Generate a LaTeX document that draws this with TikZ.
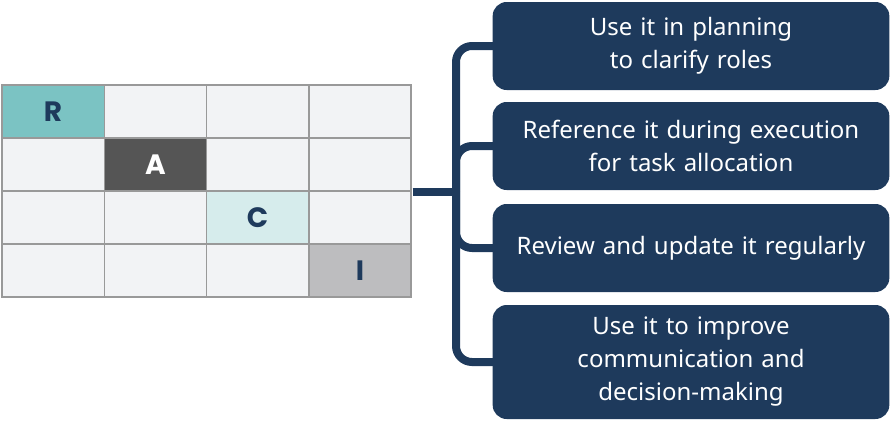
\documentclass[tikz,border=0pt]{standalone}
\usepackage{fontspec}
\setmainfont{Noto Sans}
\newfontfamily\letterfont{Poppins}
\usetikzlibrary{positioning,calc}
\definecolor{navy}{HTML}{1E3A5C}
\definecolor{teal}{HTML}{7BC3C3}
\definecolor{dgray}{HTML}{555555}
\definecolor{lteal}{HTML}{D6ECEC}
\definecolor{mgray}{HTML}{BDBDBF}
\definecolor{cellbg}{HTML}{F2F3F5}
\tikzset{
  cell/.style={draw=gray!80, line width=1.5pt, fill=cellbg, minimum width=102.25pt, minimum height=53pt, inner sep=0pt, font=\letterfont\bfseries\fontsize{28}{28}\selectfont, text=navy},
  tip/.style={fill=navy, rounded corners=14pt, minimum width=394pt, text width=390pt, align=center, text=white, font=\fontsize{24}{33}\selectfont},
  link/.style={draw=navy, line width=8pt, rounded corners=16pt},
}
\begin{document}
\begin{tikzpicture}[x=1pt,y=-1pt]
  \useasboundingbox (0,0) rectangle (890,423);
  % matrix of cells
  \foreach \r in {1,...,4}
    \foreach \c in {1,...,4}
      \node[cell] (c\r\c) at ({2+102.25*(\c-0.5)},{85+53*(\r-0.5)}) {};
  \node[cell, fill=teal] at (c11) {R};
  \node[cell, fill=dgray, text=white] at (c22) {A};
  \node[cell, fill=lteal] at (c33) {C};
  \node[cell, fill=mgray] at (c44) {I};
  \coordinate (grid) at ($(c24.south east)+(0.8,0)$);
  % tip boxes
  \node[tip, minimum height=88pt] (b1) at (691,46) {Use it in planning\\to clarify roles};
  \node[tip, minimum height=88pt] (b2) at (691,146) {Reference it during execution\\for task allocation};
  \node[tip, minimum height=88pt] (b3) at (691,248) {Review and update it regularly};
  \node[tip, minimum height=114pt] (b4) at (691,362) {Use it to improve\\communication and\\decision-making};
  % connector
  \coordinate (trunk) at (grid -| 456,0);
  \draw[link] ([xshift=2pt]b1.west) -| (trunk) |- ([xshift=2pt]b4.west);
  \draw[link] ([xshift=2pt]b2.west) -- (b2.west -| trunk) -- (trunk);
  \draw[link] (trunk) |- ([xshift=2pt]b3.west);
  \draw[link] (grid) -- (trunk);
\end{tikzpicture}
\end{document}
